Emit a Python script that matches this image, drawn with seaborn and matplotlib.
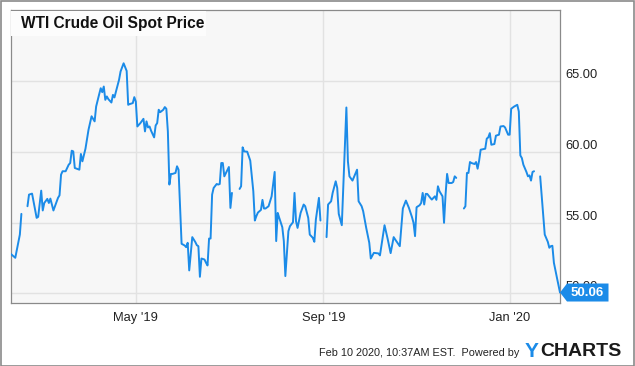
import numpy as np
import pandas as pd
import matplotlib
matplotlib.use("Agg")
import matplotlib.pyplot as plt
import matplotlib.dates as mdates
import matplotlib.patches as mpatches
import matplotlib.transforms as mtransforms
import seaborn as sns

# ---------------- data ----------------
dates = [
    "2019-02-08", "2019-02-11", "2019-02-14", "2019-02-15", "2019-02-18", "2019-02-19", "2019-02-20",
    "2019-02-22", "2019-02-25", "2019-02-26", "2019-02-28", "2019-03-01", "2019-03-02", "2019-03-04",
    "2019-03-05", "2019-03-06", "2019-03-07", "2019-03-08", "2019-03-11", "2019-03-12", "2019-03-13",
    "2019-03-14", "2019-03-16", "2019-03-18", "2019-03-19", "2019-03-20", "2019-03-21", "2019-03-22",
    "2019-03-25", "2019-03-26", "2019-03-27", "2019-03-29", "2019-03-31", "2019-04-02", "2019-04-04",
    "2019-04-05", "2019-04-07", "2019-04-08", "2019-04-09", "2019-04-10", "2019-04-11", "2019-04-12",
    "2019-04-13", "2019-04-15", "2019-04-16", "2019-04-17", "2019-04-18", "2019-04-20", "2019-04-21",
    "2019-04-23", "2019-04-25", "2019-04-26", "2019-04-27", "2019-04-29", "2019-04-30", "2019-05-01",
    "2019-05-02", "2019-05-04", "2019-05-06", "2019-05-07", "2019-05-08", "2019-05-09", "2019-05-10",
    "2019-05-11", "2019-05-13", "2019-05-14", "2019-05-15", "2019-05-16", "2019-05-17", "2019-05-19",
    "2019-05-20", "2019-05-21", "2019-05-22", "2019-05-23", "2019-05-24", "2019-05-25", "2019-05-27",
    "2019-05-28", "2019-05-29", "2019-05-31", "2019-06-02", "2019-06-03", "2019-06-04", "2019-06-05",
    "2019-06-07", "2019-06-09", "2019-06-10", "2019-06-11", "2019-06-12", "2019-06-13", "2019-06-15",
    "2019-06-16", "2019-06-17", "2019-06-18", "2019-06-19", "2019-06-20", "2019-06-21", "2019-06-23",
    "2019-06-24", "2019-06-25", "2019-06-26", "2019-06-27", "2019-06-28", "2019-07-01", "2019-07-02",
    "2019-07-03", "2019-07-04", "2019-07-08", "2019-07-09", "2019-07-10", "2019-07-11", "2019-07-13",
    "2019-07-15", "2019-07-17", "2019-07-18", "2019-07-19", "2019-07-20", "2019-07-22", "2019-07-23",
    "2019-07-24", "2019-07-25", "2019-07-27", "2019-07-29", "2019-07-31", "2019-08-01", "2019-08-02",
    "2019-08-03", "2019-08-05", "2019-08-06", "2019-08-07", "2019-08-09", "2019-08-10", "2019-08-12",
    "2019-08-13", "2019-08-14", "2019-08-15", "2019-08-17", "2019-08-19", "2019-08-20", "2019-08-22",
    "2019-08-23", "2019-08-25", "2019-08-26", "2019-08-27", "2019-08-29", "2019-08-30", "2019-09-02",
    "2019-09-03", "2019-09-04", "2019-09-06", "2019-09-07", "2019-09-09", "2019-09-10", "2019-09-11",
    "2019-09-13", "2019-09-16", "2019-09-17", "2019-09-18", "2019-09-20", "2019-09-23", "2019-09-24",
    "2019-09-26", "2019-09-27", "2019-09-29", "2019-10-01", "2019-10-02", "2019-10-04", "2019-10-07",
    "2019-10-08", "2019-10-11", "2019-10-13", "2019-10-15", "2019-10-17", "2019-10-18", "2019-10-21",
    "2019-10-23", "2019-10-25", "2019-10-27", "2019-10-29", "2019-10-30", "2019-10-31", "2019-11-01",
    "2019-11-03", "2019-11-04", "2019-11-05", "2019-11-06", "2019-11-07", "2019-11-08", "2019-11-10",
    "2019-11-11", "2019-11-13", "2019-11-14", "2019-11-15", "2019-11-16", "2019-11-18", "2019-11-19",
    "2019-11-20", "2019-11-21", "2019-11-22", "2019-11-24", "2019-11-25", "2019-11-26", "2019-11-27",
    "2019-11-28", "2019-12-02", "2019-12-03", "2019-12-04", "2019-12-05", "2019-12-06", "2019-12-07",
    "2019-12-09", "2019-12-10", "2019-12-11", "2019-12-12", "2019-12-13", "2019-12-16", "2019-12-17",
    "2019-12-18", "2019-12-19", "2019-12-20", "2019-12-22", "2019-12-23", "2019-12-25", "2019-12-26",
    "2019-12-28", "2019-12-29", "2019-12-31", "2020-01-01", "2020-01-02", "2020-01-04", "2020-01-06",
    "2020-01-07", "2020-01-08", "2020-01-09", "2020-01-10", "2020-01-12", "2020-01-13", "2020-01-14",
    "2020-01-15", "2020-01-16", "2020-01-17", "2020-01-20", "2020-01-21", "2020-01-24", "2020-01-26",
    "2020-01-27", "2020-01-28", "2020-01-29", "2020-01-30", "2020-02-01", "2020-02-03",
]
nan = np.nan
prices = [
    52.79, 52.51, 54.15, 55.61, nan, 56.15, 56.97,
    57.04, 55.33, 55.40, 57.25, 55.85, 56.38, 56.67,
    56.38, 56.69, 56.27, 55.85, 56.74, 56.92, 58.38,
    58.62, 58.62, 59.08, 59.20, 60.07, 60.02, 58.85,
    58.73, 59.84, 59.32, 60.21, 61.55, 62.50, 62.14,
    63.19, 64.06, 64.48, 64.20, 64.60, 63.66, 63.90,
    63.71, 63.47, 64.01, 63.83, 64.25, 65.07, 65.66,
    66.24, 65.70, 63.31, 63.36, 63.43, 63.85, 63.54,
    61.78, 62.02, 62.32, 61.43, 62.14, 61.71, 61.78,
    61.48, 61.01, 61.85, 62.02, 62.96, 62.79, 62.96,
    63.15, 63.03, 61.43, 57.68, 58.43, 58.43, 58.50,
    58.97, 58.73, 53.50, 53.38, 53.26, 53.57, 51.62,
    53.97, 53.62, 53.40, 53.33, 51.17, 52.46, 52.39,
    52.16, 51.97, 53.87, 53.87, 56.97, 57.44, 57.72,
    57.68, 57.72, 59.20, 59.20, 58.26, 58.92, 56.03,
    57.09, nan, 57.37, 57.56, 60.31, 60.02, 60.00,
    59.37, 57.21, 55.14, 55.45, 55.70, 55.89, 56.60,
    55.99, 55.99, 56.15, 56.85, 58.57, 53.69, 55.68,
    55.33, 54.67, 53.69, 51.22, 54.39, 54.74, 55.02,
    57.09, 55.09, 54.62, 55.68, 56.27, 56.15, 55.33,
    54.15, 53.92, 53.64, 55.21, 56.74, 55.14, nan,
    53.97, 56.27, 56.50, 57.09, 57.91, 57.44, 55.61,
    54.81, 63.12, 59.32, 58.26, 57.96, 58.73, 56.50,
    56.15, 55.80, 54.62, 53.57, 52.46, 52.86, 52.82,
    52.68, 54.81, 53.87, 52.84, 53.97, 53.80, 53.33,
    55.99, 56.55, 56.03, 55.38, 54.98, 54.04, 56.08,
    56.22, 56.38, 57.09, 56.27, 57.02, 57.02, 56.74,
    56.62, 56.85, 56.60, 57.56, 57.21, 56.85, 54.98,
    56.97, 58.43, 57.79, 57.79, 57.86, 58.26, 58.15,
    nan, 55.99, 56.15, 58.50, 58.50, 59.27, 59.20,
    59.13, 59.27, 58.80, 59.37, 60.14, 60.21, 60.92,
    61.01, 61.31, 60.49, 60.54, 61.13, 61.20, 61.78,
    61.81, 61.71, 61.20, 61.20, 63.03, 63.19, 63.31,
    62.84, 59.74, 59.55, 59.08, 58.57, 58.26, 58.33,
    57.96, 58.57, 58.62, nan, 58.26, 54.15, 53.64,
    53.22, 53.33, 53.36, 52.16, 51.10, 50.06,
]
title = "WTI Crude Oil Spot Price"
y_ticks = [50, 55, 60, 65]
x_ticks = ["2019-05-01", "2019-09-01", "2020-01-01"]
x_tick_labels = ["May '19", "Sep '19", "Jan '20"]
last_label = "50.06"
footer = "Feb 10 2020, 10:37AM EST.  Powered by"

# ---------------- styling ----------------
sns.set_theme(style="white")
plt.rcParams["font.family"] = ["Liberation Sans", "DejaVu Sans"]

W, H = 635, 366
fig = plt.figure(figsize=(W / 100, H / 100), dpi=100)
fig.patch.set_facecolor("white")

L, R, T, B = 10.7, 560.0, 10.3, 303.0
ax = fig.add_axes([L / W, 1 - B / H, (R - L) / W, (B - T) / H])
ax.set_facecolor("#f7f7f7")

LINE = "#1b8be8"

df = pd.DataFrame({"date": pd.to_datetime(dates), "price": prices})
df["seg"] = df["price"].isna().cumsum()
df = df.dropna(subset=["price"])

sns.lineplot(data=df, x="date", y="price", units="seg", estimator=None,
             color=LINE, linewidth=1.4, ax=ax, zorder=3)

ax.set_xlim(pd.Timestamp("2019-02-08"), pd.Timestamp("2020-02-03"))
ax.set_ylim(49.32, 69.98)

ax.set_yticks(y_ticks)
ax.set_yticklabels([f"{v:.2f}" for v in y_ticks])
ax.yaxis.tick_right()
ax.set_xticks(pd.to_datetime(x_ticks))
ax.set_xticklabels(x_tick_labels)
ax.tick_params(axis="y", length=0, pad=4, labelsize=9.3, labelcolor="#222222")
ax.tick_params(axis="x", length=0, pad=6.5, labelsize=9.3, labelcolor="#222222")
for lab in ax.get_yticklabels():
    lab.set_verticalalignment("bottom")
ax.set_xlabel("")
ax.set_ylabel("")
ax.grid(True, color="#e2e2e2", linewidth=1.0)
ax.set_axisbelow(True)
for s in ax.spines.values():
    s.set_visible(True)
    s.set_color("#8a8a8a")
    s.set_linewidth(0.9)

# title box
tb = mpatches.Rectangle((11 / W, 1 - 36 / H), (206 - 11) / W, (36 - 10.8) / H,
                        transform=fig.transFigure, facecolor="#fcfcfc",
                        edgecolor="none", zorder=4)
ax.add_artist(tb)
tb.set_clip_on(False)
fig.text(21 / W, 1 - 23.5 / H, title, fontsize=11.2, fontweight="bold",
         color="#111111", va="center", ha="left", zorder=5)

# outer border
border = mpatches.Rectangle((0.5 / W, 0.5 / H), (W - 1.5) / W, (H - 1.5) / H,
                            transform=fig.transFigure, facecolor="none",
                            edgecolor="#8a8a8a", linewidth=1.2)
fig.add_artist(border)

# last-value marker (pixel coordinates)
fig.canvas.draw()
last = df.iloc[-1]
tx, ty = ax.transData.transform((mdates.date2num(last["date"]), last["price"]))
poly = mpatches.Polygon(
    [(tx, ty), (tx + 7, ty + 9), (tx + 48.5, ty + 9), (tx + 48.5, ty - 9), (tx + 7, ty - 9)],
    closed=True, transform=mtransforms.IdentityTransform(),
    facecolor=LINE, edgecolor="none", zorder=10)
fig.add_artist(poly)
fig.text((tx + 27) / W, ty / H, last_label, fontsize=9.5, fontweight="bold",
         color="white", ha="center", va="center", zorder=11)

# footer
fig.text(519 / W, 1 - 353 / H, footer, fontsize=7.8, color="#222222",
         ha="right", va="center")
fig.text(539 / W, 1 - 351.5 / H, "Y", fontsize=15, fontweight="bold",
         color=LINE, ha="right", va="center")
fig.text(540 / W, 1 - 351.5 / H, "CHARTS", fontsize=14, fontweight="bold",
         color="#1a1a1a", ha="left", va="center")

fig.savefig("out.png", dpi=100)
